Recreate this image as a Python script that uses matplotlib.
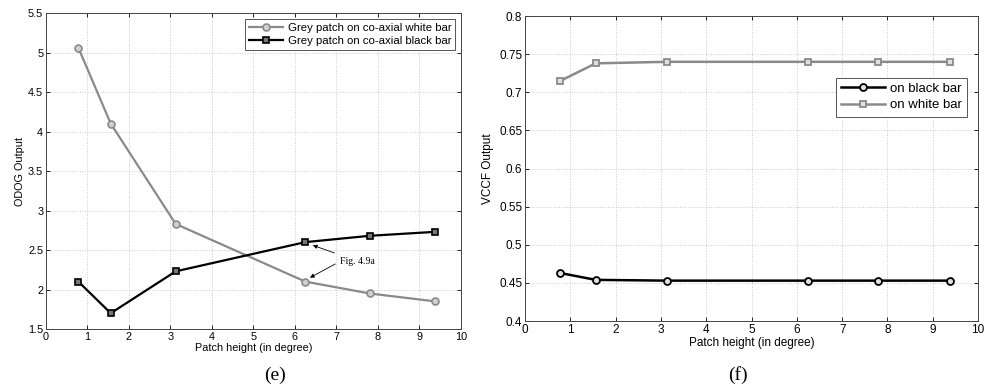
import numpy as np
import matplotlib
matplotlib.use('Agg')
import matplotlib.pyplot as plt

plt.rcParams['font.family'] = ['Liberation Sans', 'DejaVu Sans']

# patch heights (degrees)
patch_height = [0.78, 1.56, 3.125, 6.25, 7.8, 9.375]

# ODOG model output
odog_white = [5.06, 4.10, 2.83, 2.10, 1.95, 1.85]
odog_black = [2.10, 1.70, 2.23, 2.60, 2.68, 2.73]

# VCCF model output
vccf_black = [0.463, 0.454, 0.453, 0.453, 0.453, 0.453]
vccf_white = [0.715, 0.738, 0.740, 0.740, 0.740, 0.740]

grey = '#8a8a8a'

fig = plt.figure(figsize=(9.85, 3.92), dpi=100)
ax1 = fig.add_axes([0.0467, 0.1607, 0.4213, 0.806])
ax2 = fig.add_axes([0.533, 0.181, 0.460, 0.778])

def style_axes(ax, fs):
    ax.grid(True, linestyle=':', color='#c8c8c8', linewidth=0.7)
    ax.tick_params(direction='in', labelsize=fs, length=3, width=0.6,
                   top=True, right=True, pad=2)
    for s in ax.spines.values():
        s.set_linewidth(0.7)
        s.set_color('#444444')

# (e) ODOG
ax1.plot(patch_height, odog_white, color=grey, lw=1.6, marker='o', ms=5,
         mfc='#d0d0d0', mec=grey, mew=1.2,
         label='Grey patch on co-axial white bar')
ax1.plot(patch_height, odog_black, color='black', lw=1.6, marker='s', ms=4.5,
         mfc='#777777', mec='black', mew=1.2,
         label='Grey patch on co-axial black bar')
ax1.set_xlim(0, 10)
ax1.set_ylim(1.5, 5.5)
ax1.set_xticks(np.arange(0, 11, 1))
ax1.set_yticks(np.arange(1.5, 5.6, 0.5))
ax1.set_yticklabels(['1.5', '2', '2.5', '3', '3.5', '4', '4.5', '5', '5.5'])
style_axes(ax1, 7.8)
ax1.set_xlabel('Patch height (in degree)', fontsize=7.8, labelpad=1)
ax1.set_ylabel('ODOG Output', fontsize=7.8, labelpad=2)
leg1 = ax1.legend(loc='upper right', fontsize=8.2, fancybox=False,
                  framealpha=1, edgecolor='#555555', handlelength=3,
                  borderaxespad=0.5, borderpad=0.35, labelspacing=0.25,
                  handletextpad=0.4)
leg1.get_frame().set_linewidth(0.7)

ax1.annotate('Fig. 4.9a', xy=(6.43, 2.56), xytext=(7.08, 2.36),
             fontsize=7, family='Liberation Serif', va='center',
             arrowprops=dict(arrowstyle='-|>', color='black', lw=0.6,
                             mutation_scale=6, shrinkB=0))
ax1.annotate('', xy=(6.36, 2.15), xytext=(7.03, 2.34),
             arrowprops=dict(arrowstyle='-|>', color='black', lw=0.6,
                             mutation_scale=6, shrinkB=0))

# (f) VCCF
ax2.plot(patch_height, vccf_black, color='black', lw=1.8, marker='o', ms=5,
         mfc='#e0e0e0', mec='black', mew=1.3, label='on black bar')
ax2.plot(patch_height, vccf_white, color=grey, lw=1.8, marker='s', ms=4.5,
         mfc='#e0e0e0', mec=grey, mew=1.3, label='on white bar')
ax2.set_xlim(0, 10)
ax2.set_ylim(0.4, 0.8)
ax2.set_xticks(np.arange(0, 11, 1))
ax2.set_yticks(np.arange(0.4, 0.81, 0.05))
ax2.set_yticklabels(['0.4', '0.45', '0.5', '0.55', '0.6', '0.65', '0.7', '0.75', '0.8'])
style_axes(ax2, 8.5)
ax2.set_xlabel('Patch height (in degree)', fontsize=8.5, labelpad=1)
ax2.set_ylabel('VCCF Output', fontsize=8.5, labelpad=4)
leg2 = ax2.legend(loc='upper right', bbox_to_anchor=(0.99, 0.82), fontsize=9.5,
                  fancybox=False, framealpha=1, edgecolor='#555555',
                  handlelength=3.3, borderpad=0.4, labelspacing=0.3,
                  handletextpad=0.4)
leg2.get_frame().set_linewidth(0.7)

fig.text(275 / 985, 1 - 375 / 392, '(e)', fontsize=14, family='Liberation Serif',
         ha='center', va='center')
fig.text(738 / 985, 1 - 375 / 392, '(f)', fontsize=14, family='Liberation Serif',
         ha='center', va='center')

fig.savefig('out.png', dpi=100)
